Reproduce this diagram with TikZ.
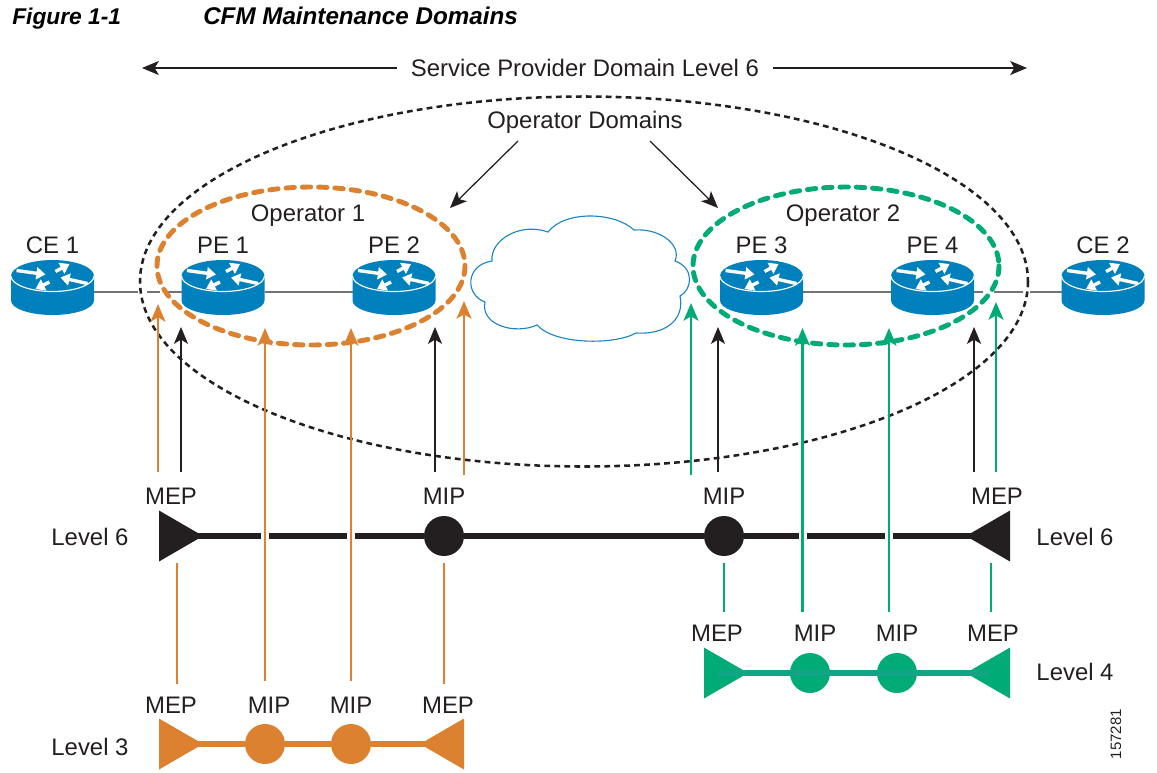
\documentclass[tikz,border=0pt]{standalone}
\usepackage{fontspec}
\setmainfont{Liberation Sans}
\usetikzlibrary{arrows.meta}
\definecolor{ink}{HTML}{231F20}
\definecolor{oporange}{HTML}{DC8130}
\definecolor{opgreen}{HTML}{00AB75}
\definecolor{opteal}{HTML}{10A585}
\definecolor{rtblue}{HTML}{0080BC}
\definecolor{cloudblue}{HTML}{1B86C4}
\tikzset{
    lbl/.style={inner sep=0pt, text=ink, font=\fontsize{17}{20}\selectfont},
    wire/.style={draw=black!55, line width=0.8pt},
    thinarr/.style={draw=ink, line width=0.9pt, -{Stealth[length=12pt,width=10pt,inset=3pt]}},
    blackarr/.style={draw=ink, line width=0.9pt, -{Stealth[length=12pt,width=10pt,inset=3pt]}},
    orangearr/.style={draw=oporange, line width=2.05pt, -{Stealth[length=12.5pt,width=10.5pt,inset=3pt]}},
    greenarr/.style={draw=opgreen, line width=2.05pt, -{Stealth[length=12.5pt,width=10.5pt,inset=3pt]}},
    orangeline/.style={draw=oporange, line width=2.05pt},
    greenline/.style={draw=opgreen, line width=2.05pt},
    gap/.style={draw=white, line width=0.2cm},
    wiregap/.style={draw=white, line width=2pt},
    mip/.style={circle, fill, minimum size=1cm, inner sep=0pt},
    rtarr/.style={draw=white, line width=2.4pt, -{Triangle[length=6.5pt,width=8.5pt]}},
    router/.pic={
        \fill[rtblue] (-41.5,-11.5) .. controls (-41.5,-20.3) and (-22.9,-27.5) .. (0,-27.5)
            .. controls (22.9,-27.5) and (41.5,-20.3) .. (41.5,-11.5) -- (41.5,13)
            .. controls (41.5,21) and (22.9,27.5) .. (0,27.5)
            .. controls (-22.9,27.5) and (-41.5,21) .. (-41.5,13) -- cycle;
        \draw[white, line width=0.8pt] (-41.5,-11.5) .. controls (-41.5,-3) and (-22.9,4) .. (0,4)
            .. controls (22.9,4) and (41.5,-3) .. (41.5,-11.5);
        \draw[rtarr] (-36,-17) -- (-7,-13);
        \draw[rtarr] (3,-16) -- (17,-23.5);
        \draw[rtarr] (35,-4) -- (8,-10);
        \draw[rtarr] (-3,-5.5) -- (-17,1.5);
        \coordinate (-w) at (-41.5,4.5);
        \coordinate (-e) at (41.5,4.5);
    },
    mepr/.pic={
        \fill (-22,-25.5) -- (22,0) -- (-22,25.5) -- cycle;
        \coordinate (-mid) at (-8,0);
    },
    mepl/.pic={
        \fill (22,-25.5) -- (-22,0) -- (22,25.5) -- cycle;
        \coordinate (-mid) at (2,0);
    }
}
\begin{document}
\begin{tikzpicture}[x=0.025cm, y=-0.025cm]
    \useasboundingbox (0,0) rectangle (1157,772);

    \node[anchor=base west, inner sep=0pt, font=\fontsize{16.2}{20}\selectfont\bfseries\itshape] (figno) at (12,24) {Figure 1-1};
    \node[anchor=base west, inner sep=0pt, font=\fontsize{17.2}{20}\selectfont\bfseries\itshape] (figname) at (203,24) {CFM Maintenance Domains};

    \node[lbl, inner xsep=0.33cm] (sp) at (585,68) {Service Provider Domain Level 6};
    \coordinate (spl) at (142,68);
    \coordinate (spr) at (1027,68);
    \draw[thinarr] (sp) -- (spl);
    \draw[thinarr] (sp) -- (spr);

    % routers and their links
    \foreach \rt/\x/\txt in {ce1/52.5/CE 1, pe1/223/PE 1, pe2/394/PE 2, pe3/761.5/PE 3, pe4/932.5/PE 4, ce2/1103/CE 2} {
        \pic (\rt) at (\x,287.5) {router};
        \node[lbl] (\rt lbl) at (\x,245) {\txt};
    }
    \draw[wire] (ce1-e) -- (pe1-w);
    \draw[wire] (pe1-e) -- (pe2-w);
    \draw[wire] (pe3-e) -- (pe4-w);
    \draw[wire] (pe4-e) -- (ce2-w);
    \foreach \nm/\xa/\xb in {w1/138/147, w2/160/168, w3/983/994, w4/1023/1030} {
        \coordinate (\nm a) at (\xa,292);
        \coordinate (\nm b) at (\xb,292);
        \draw[wiregap] (\nm a) -- (\nm b);
    }

    \draw[cloudblue, line width=0.8pt] (492,261) .. controls (490,240) and (520,222) .. (548,232)
        .. controls (565,210) and (615,212) .. (634,230)
        .. controls (660,228) and (682,245) .. (675,261)
        .. controls (695,268) and (692,290) .. (680,296)
        .. controls (685,320) and (665,335) .. (636,333)
        .. controls (615,345) and (555,345) .. (537,325)
        .. controls (515,335) and (480,325) .. (485,302)
        .. controls (465,295) and (465,265) .. cycle;

    \draw[ink, line width=1.8pt, dash pattern=on 4.1pt off 3pt] (584,281.5) ellipse [x radius=444, y radius=185];
    \draw[oporange, line width=3.5pt, line cap=round, dash pattern=on 6pt off 5.6pt] (311,266) ellipse [x radius=154, y radius=79];
    \draw[opgreen, line width=3.5pt, line cap=round, dash pattern=on 6pt off 5.6pt] (846,266) ellipse [x radius=153, y radius=79];

    \node[lbl] (op1) at (308,216) {Operator 1};
    \node[lbl] (op2) at (843,216) {Operator 2};
    \node[lbl] (opd) at (585,122) {Operator Domains};
    \coordinate (opdl) at (518,141);
    \coordinate (opdr) at (650,141);
    \coordinate (op1tip) at (450,208);
    \coordinate (op2tip) at (718,208);
    \draw[thinarr] (opdl) -- (op1tip);
    \draw[thinarr] (opdr) -- (op2tip);

    % level 6
    \pic[color=ink] (a6) at (181,536) {mepr};
    \pic[color=ink] (b6) at (988,536) {mepl};
    \node[mip, ink] (c6) at (444,536) {};
    \node[mip, ink] (d6) at (724,536) {};
    \draw[ink, line width=4.4pt] (a6-mid) -- (c6) -- (d6) -- (b6-mid);

    % level 4
    \pic[color=opgreen] (a4) at (726,673) {mepr};
    \pic[color=opgreen] (b4) at (988,673) {mepl};
    \node[mip, opgreen] (c4) at (810,673) {};
    \node[mip, opgreen] (d4) at (897,673) {};
    \draw[opteal, line width=3.6pt] (a4-mid) -- (c4.center) -- (d4.center) -- (b4-mid);

    % level 3
    \pic[color=oporange] (a3) at (181,744) {mepr};
    \pic[color=oporange] (b3) at (442,744) {mepl};
    \node[mip, oporange] (c3) at (265,744) {};
    \node[mip, oporange] (d3) at (351,744) {};
    \draw[oporange, line width=3.6pt] (a3-mid) -- (c3) -- (d3) -- (b3-mid);

    \foreach \nm/\x in {g1/265, g2/351, g3/802.5, g4/889} {
        \coordinate (\nm a) at (\x,529);
        \coordinate (\nm b) at (\x,543);
        \draw[gap] (\nm a) -- (\nm b);
    }

    % risers
    \foreach \nm/\x/\ya/\yb/\st in {
        v1/158/472/304/orangearr, v2/181/472/327/blackarr, v3/265/681/328/orangearr,
        v4/351/681/328/orangearr, v5/435/472/327/blackarr, v6/464/475/301/orangearr,
        v7/691/475/303/greenarr, v8/718/472/327/blackarr, v9/802.5/612/328/greenarr,
        v10/889/612/328/greenarr, v11/974/472/327/blackarr, v12/996/472/302/greenarr,
        s1/177/563/684/orangeline, s2/444/563/684/orangeline,
        s3/724/563/612/greenline, s4/991/563/612/greenline} {
        \coordinate (\nm a) at (\x,\ya);
        \coordinate (\nm b) at (\x,\yb);
        \draw[\st] (\nm a) -- (\nm b);
    }

    \foreach \nm/\x/\y/\txt in {
        m1/171/496/MEP, m2/444/496/MIP, m3/724/496/MIP, m4/997/496/MEP,
        m5/717/633/MEP, m6/815/633/MIP, m7/897/633/MIP, m8/993/633/MEP,
        m9/171/705/MEP, m10/269/705/MIP, m11/351/705/MIP, m12/448/705/MEP,
        l1/90/537/Level 6, l2/1075/537/Level 6, l3/1075/672/Level 4, l4/90/747/Level 3} {
        \node[lbl] (\nm) at (\x,\y) {\txt};
    }

    \node[inner sep=0pt, text=ink, rotate=90, font=\fontsize{10.7}{12}\selectfont] (figid) at (1116,734) {157281};
\end{tikzpicture}
\end{document}
